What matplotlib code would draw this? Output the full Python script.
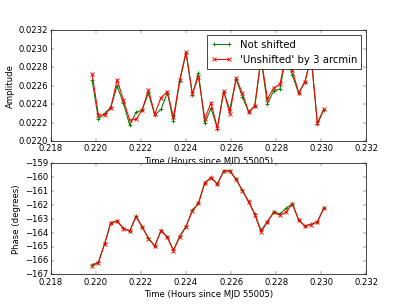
import matplotlib
matplotlib.use("Agg")
import matplotlib.pyplot as plt
from matplotlib.ticker import ScalarFormatter

plt.style.use("classic")

time_hours = [0.21983, 0.22011, 0.22039, 0.22066, 0.22094, 0.22122, 0.22150, 0.22178,
              0.22205, 0.22233, 0.22261, 0.22289, 0.22317, 0.22344, 0.22372, 0.22400,
              0.22428, 0.22455, 0.22483, 0.22511, 0.22539, 0.22567, 0.22594, 0.22622,
              0.22650, 0.22678, 0.22705, 0.22733, 0.22761, 0.22789, 0.22817, 0.22844,
              0.22872, 0.22900, 0.22928, 0.22955, 0.22983, 0.23011]

amp_not_shifted = [0.022658, 0.022240, 0.022302, 0.022367, 0.022600, 0.022411, 0.022174, 0.022313,
                   0.022338, 0.022520, 0.022283, 0.022346, 0.022527, 0.022221, 0.022647, 0.022957,
                   0.022502, 0.022742, 0.022200, 0.022357, 0.022138, 0.022538, 0.022343, 0.022671,
                   0.022483, 0.022316, 0.022382, 0.022890, 0.022403, 0.022545, 0.022564, 0.022940,
                   0.022715, 0.022518, 0.022644, 0.022920, 0.022182, 0.022338]

amp_unshifted = [0.022731, 0.022283, 0.022283, 0.022363, 0.022665, 0.022447, 0.022229, 0.022237,
                 0.022338, 0.022556, 0.022294, 0.022472, 0.022538, 0.022258, 0.022665, 0.022963,
                 0.022513, 0.022698, 0.022245, 0.022414, 0.022142, 0.022545, 0.022294, 0.022684,
                 0.022520, 0.022316, 0.022382, 0.022900, 0.022458, 0.022578, 0.022618, 0.022950,
                 0.022769, 0.022523, 0.022644, 0.022920, 0.022196, 0.022349]

phase_not_shifted = [-166.30, -166.12, -164.75, -163.26, -163.14, -163.67, -163.86, -162.78,
                     -163.55, -164.39, -164.94, -163.80, -164.31, -165.26, -164.22, -163.52,
                     -162.38, -161.86, -160.38, -160.01, -160.47, -159.53, -159.53, -160.13,
                     -160.93, -161.74, -162.64, -163.82, -163.19, -162.50, -162.62, -162.24,
                     -161.90, -163.07, -163.50, -163.38, -163.19, -162.22]

phase_unshifted = [-166.40, -166.14, -164.77, -163.28, -163.16, -163.69, -163.88, -162.85,
                   -163.57, -164.41, -164.96, -163.86, -164.33, -165.28, -164.29, -163.55,
                   -162.41, -161.88, -160.40, -160.03, -160.49, -159.55, -159.55, -160.15,
                   -160.97, -161.77, -162.68, -163.95, -163.21, -162.53, -162.73, -162.49,
                   -161.93, -163.09, -163.52, -163.40, -163.21, -162.24]

label_green = "Not shifted"
label_red = "'Unshifted' by 3 arcmin"
xlabel = "Time (Hours since MJD 55005)"

LW = 1.5
fig = plt.figure(figsize=(8, 6), dpi=50.875, facecolor="white")

ax1 = fig.add_subplot(2, 1, 1)
ax1.plot(time_hours, amp_not_shifted, "g+-", label=label_green, lw=LW, mew=1.2)
ax1.plot(time_hours, amp_unshifted, "rx-", label=label_red, lw=LW, mew=1.2)
ax1.set_xlim(0.218, 0.232)
ax1.set_ylim(0.0220, 0.0232)
ax1.set_ylabel("Amplitude")
ax1.set_xlabel(xlabel)
ax1.yaxis.set_major_formatter(ScalarFormatter(useOffset=False))
ax1.xaxis.set_major_formatter(ScalarFormatter(useOffset=False))
ax1.legend(loc="upper right", numpoints=2)

ax2 = fig.add_subplot(2, 1, 2)
ax2.plot(time_hours, phase_not_shifted, "g+-", lw=LW, mew=1.2)
ax2.plot(time_hours, phase_unshifted, "rx-", lw=LW, mew=1.2)
ax2.set_xlim(0.218, 0.232)
ax2.set_ylim(-167, -159)
ax2.set_ylabel("Phase (degrees)")
ax2.set_xlabel(xlabel)
ax2.xaxis.set_major_formatter(ScalarFormatter(useOffset=False))

fig.savefig("out.png", dpi=50.875, facecolor="white")
